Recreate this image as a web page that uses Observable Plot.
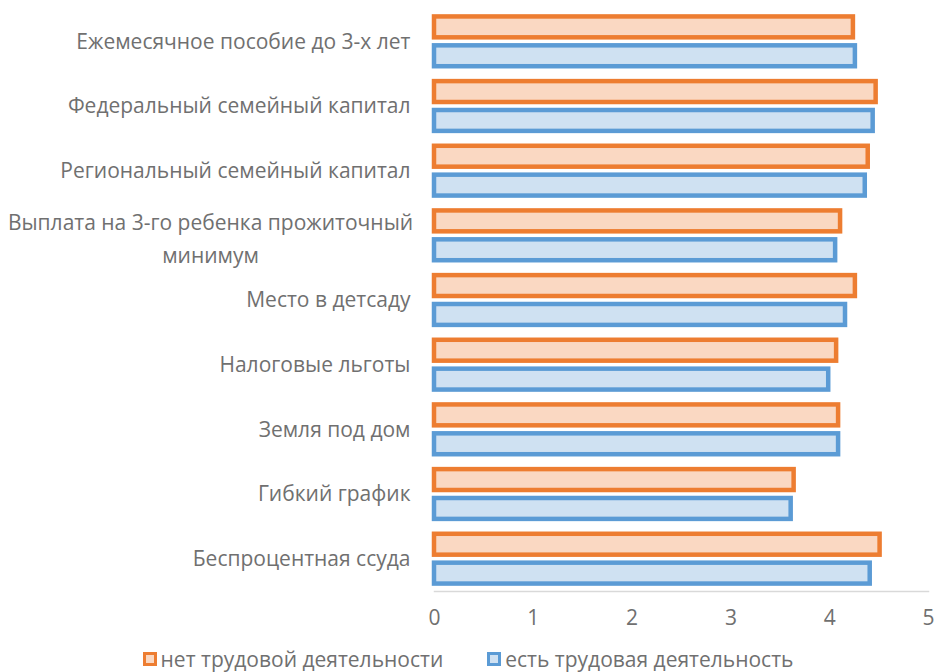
<!DOCTYPE html>
<html>
<head>
<meta charset="utf-8">
<script src="https://cdn.jsdelivr.net/npm/d3@7"></script>
<script src="https://cdn.jsdelivr.net/npm/@observablehq/plot@0.6"></script>
<style>
  html, body { margin: 0; padding: 0; background: #ffffff; }
  body { width: 936px; font-family: "Open Sans", sans-serif; }
  #legend { display: flex; justify-content: center; align-items: center; gap: 44px;
            height: 28px; padding-top: 5px; font-size: 21px; color: #707070; line-height: 26px; }
  .item { display: flex; align-items: center; }
  .sw { display: inline-block; box-sizing: border-box; width: 14px; height: 14px; border-width: 3px; border-style: solid; margin-right: 4px; }
</style>
</head>
<body>
<div id="chart"></div>
<div id="legend"></div>
<script>
const categories = [
  "Ежемесячное пособие до 3-х лет",
  "Федеральный семейный капитал",
  "Региональный семейный капитал",
  "Выплата на 3-го ребенка прожиточный минимум",
  "Место в детсаду",
  "Налоговые льготы",
  "Земля под дом",
  "Гибкий график",
  "Беспроцентная ссуда"
];
const seriesNames = ["нет трудовой деятельности", "есть трудовая деятельность"];
const noWork  = [4.24, 4.47, 4.39, 4.11, 4.26, 4.07, 4.09, 3.64, 4.51];
const hasWork = [4.26, 4.44, 4.36, 4.06, 4.16, 3.99, 4.09, 3.61, 4.41];
const xTicks = [0, 1, 2, 3, 4, 5];
const wrappedLabels = { "Выплата на 3-го ребенка прожиточный минимум": "Выплата на 3-го ребенка прожиточный\nминимум" };

const strokeColors = ["#ED7D31", "#5B9BD5"];
const fillColors = ["#FAD8C2", "#CFE1F2"];

const rows = categories.map((c, i) => ({cat: c, a: noWork[i], b: hasWork[i]}));

const W = 936, H = 640, mt = 9, mb = 49, pIn = 0.23, pOut = 0.115;
const step = (H - mt - mb) / (categories.length - pIn + 2 * pOut);
const bw = step * (1 - pIn);
const inset = bw / 2 + 4;
const textColor = "#707070";
const fs = 21;

const chart = Plot.plot({
  width: W, height: H,
  marginLeft: 434, marginRight: 8, marginTop: mt, marginBottom: mb,
  style: {fontFamily: "'Open Sans', sans-serif", fontSize: fs + "px", color: textColor, background: "#ffffff"},
  x: {domain: [0, 5], ticks: xTicks},
  y: {domain: categories, paddingInner: pIn, paddingOuter: pOut, round: false},
  marks: [
    Plot.frame({anchor: "bottom", stroke: "#D9D9D9", strokeWidth: 1.5}),
    Plot.barX(rows, {y: "cat", x: "a", fill: fillColors[0], stroke: strokeColors[0], strokeWidth: 4.5, insetBottom: inset}),
    Plot.barX(rows, {y: "cat", x: "b", fill: fillColors[1], stroke: strokeColors[1], strokeWidth: 4.5, insetTop: inset}),
    Plot.axisX({ticks: xTicks, tickSize: 0, tickPadding: 19, tickFormat: d => String(d), fontSize: fs, label: null}),
    Plot.axisY({tickSize: 0, tickPadding: 24, fontSize: fs, label: null,
                tickFormat: d => wrappedLabels[d] ? "" : d}),
    Plot.text(Object.keys(wrappedLabels), {y: d => d, text: d => wrappedLabels[d], frameAnchor: "left",
                dx: -224, textAnchor: "middle", lineHeight: 1.55, fontSize: fs, fill: textColor})
  ]
});
document.getElementById("chart").appendChild(chart);

const legend = document.getElementById("legend");
seriesNames.forEach((name, i) => {
  const item = document.createElement("div");
  item.className = "item";
  const sw = document.createElement("span");
  sw.className = "sw";
  sw.style.borderColor = strokeColors[i];
  sw.style.background = fillColors[i];
  const t = document.createElement("span");
  t.textContent = name;
  item.appendChild(sw);
  item.appendChild(t);
  legend.appendChild(item);
});
</script>
</body>
</html>
